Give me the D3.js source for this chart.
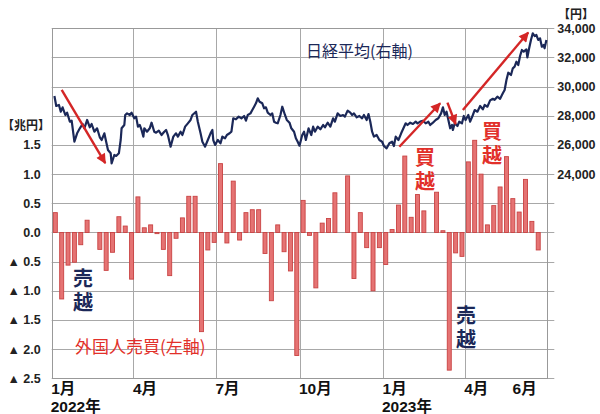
<!DOCTYPE html>
<html><head><meta charset="utf-8">
<script src="https://cdn.jsdelivr.net/npm/d3@7"></script>
<style>body{margin:0;background:#fff} svg{display:block}</style>
</head><body><svg id="c" width="600" height="414"></svg>
<script>
// ---- data ----
const flowFirstWeek = "2022-01-05";
const flowValues = [0.34,-1.14,-0.56,-0.51,-0.21,0.21,0,-0.29,-0.65,-0.34,
 0.27,0.11,-0.80,0.61,0.08,0.13,-0.02,-0.29,-0.74,-0.10,
 0.25,0.62,0.62,-1.70,-0.30,-0.17,1.18,-0.18,0.88,-0.13,
 0.34,0.39,0.39,-0.36,-1.17,0.13,-0.33,-0.66,-2.11,0.55,
 -0.05,-0.95,0.16,0.24,0.68,null,0.97,-0.79,0.34,-0.26,
 -1.00,-0.26,-0.55,0.05,0.47,1.31,0.26,0.65,0.37,null,
 0.69,0.03,-2.36,-0.35,-0.41,1.21,1.58,1.00,0.13,0.46,
 0.78,1.30,0.58,0.35,0.91,0.19,-0.30];

const nikkeiDates = ["2022-01-04","2022-01-06","2022-01-09","2022-01-11","2022-01-13","2022-01-16","2022-01-18","2022-01-21","2022-01-23","2022-01-26",
"2022-01-29","2022-02-01","2022-02-04","2022-02-06","2022-02-09","2022-02-12","2022-02-14","2022-02-17","2022-02-20","2022-02-23",
"2022-02-25","2022-02-28","2022-03-02","2022-03-04","2022-03-07","2022-03-08","2022-03-11","2022-03-13","2022-03-16","2022-03-18",
"2022-03-19","2022-03-22","2022-03-23","2022-03-25","2022-03-28","2022-03-30","2022-04-02","2022-04-04","2022-04-06","2022-04-08",
"2022-04-10","2022-04-12","2022-04-13","2022-04-16","2022-04-19","2022-04-21","2022-04-24","2022-04-26","2022-04-29","2022-05-02",
"2022-05-05","2022-05-07","2022-05-09","2022-05-12","2022-05-15","2022-05-18","2022-05-20","2022-05-23","2022-05-25","2022-05-28",
"2022-05-31","2022-06-03","2022-06-05","2022-06-09","2022-06-11","2022-06-14","2022-06-16","2022-06-19","2022-06-22","2022-06-25",
"2022-06-27","2022-06-28","2022-06-30","2022-07-03","2022-07-06","2022-07-08","2022-07-11","2022-07-13","2022-07-16","2022-07-18",
"2022-07-19","2022-07-20","2022-07-23","2022-07-26","2022-07-29","2022-08-01","2022-08-03","2022-08-05","2022-08-08","2022-08-10",
"2022-08-12","2022-08-14","2022-08-16","2022-08-18","2022-08-21","2022-08-23","2022-08-25","2022-08-27","2022-08-30","2022-09-01",
"2022-09-03","2022-09-05","2022-09-07","2022-09-10","2022-09-12","2022-09-15","2022-09-17","2022-09-20","2022-09-22","2022-09-25",
"2022-09-27","2022-09-29","2022-10-01","2022-10-04","2022-10-06","2022-10-08","2022-10-11","2022-10-14","2022-10-16","2022-10-18",
"2022-10-21","2022-10-24","2022-10-27","2022-10-29","2022-11-01","2022-11-04","2022-11-07","2022-11-09","2022-11-12","2022-11-15",
"2022-11-18","2022-11-20","2022-11-23","2022-11-26","2022-11-28","2022-11-30","2022-12-03","2022-12-06","2022-12-09","2022-12-11",
"2022-12-14","2022-12-16","2022-12-18","2022-12-20","2022-12-22","2022-12-25","2022-12-28","2022-12-31","2023-01-02","2023-01-05",
"2023-01-08","2023-01-11","2023-01-13","2023-01-15","2023-01-18","2023-01-21","2023-01-23","2023-01-26","2023-01-28","2023-01-31",
"2023-02-03","2023-02-06","2023-02-08","2023-02-11","2023-02-14","2023-02-17","2023-02-20","2023-02-22","2023-02-25","2023-02-28",
"2023-03-03","2023-03-06","2023-03-08","2023-03-10","2023-03-12","2023-03-14","2023-03-16","2023-03-18","2023-03-19","2023-03-21",
"2023-03-24","2023-03-26","2023-03-29","2023-03-31","2023-04-02","2023-04-05","2023-04-07","2023-04-10","2023-04-12","2023-04-15",
"2023-04-18","2023-04-21","2023-04-23","2023-04-26","2023-04-29","2023-05-02","2023-05-04","2023-05-07","2023-05-10","2023-05-13",
"2023-05-15","2023-05-17","2023-05-19","2023-05-22","2023-05-24","2023-05-26","2023-05-28","2023-05-30","2023-06-01","2023-06-03",
"2023-06-05","2023-06-08","2023-06-09","2023-06-11","2023-06-13","2023-06-15","2023-06-17","2023-06-19","2023-06-21","2023-06-23",
"2023-06-25","2023-06-27","2023-06-28","2023-06-30"];
const nikkeiValues = [29358,28672,28740,28281,28583,28055,28213,27596,27664,26224,
26800,27143,27438,27143,27713,27210,27438,26910,27143,26526,
26340,26800,26224,25655,25428,24743,25313,25246,25428,26340,
27143,27370,28055,28167,28055,28213,27828,27942,27256,27370,
27028,26570,27143,26910,27143,27528,26910,26842,26980,26683,
26910,27028,26683,25883,26570,26800,26570,26910,26683,27256,
27484,27713,28055,28281,27596,26800,26224,25883,26340,26800,
27028,26340,26000,26340,26114,26570,26457,26683,26800,26910,
27370,27828,27760,27942,27828,27987,27664,28055,28167,28396,
28624,28857,29200,28967,28857,28514,28583,28213,28055,28167,
27596,27528,27484,28055,28624,28055,27713,27528,27143,26910,
26457,26224,25950,26683,26910,26340,27143,26683,27256,26910,
27256,27074,27370,27210,27528,27256,27828,27596,28167,27987,
28055,27942,28354,28213,28055,28167,27896,27987,27828,28055,
27713,28121,27596,26910,26570,26683,26340,26224,25930,25770,
26114,26224,25930,26570,26340,26800,27074,27484,27370,27528,
27438,27596,27484,27600,27664,27484,27596,27370,27528,27713,
27828,28167,28583,28055,28281,27713,27143,27370,27028,27484,
27302,27596,27484,27987,27713,28055,27596,28055,28396,28281,
28672,28445,28740,28624,29054,29169,29100,29312,29169,29543,
29770,30455,30955,30798,31255,31370,31711,31484,32100,32512,
32397,32557,32000,32630,33200,33657,33472,33540,33200,33314,
32740,32855,32630,33200];

const leftTicks = [-2.5,-2,-1.5,-1,-0.5,0,0.5,1,1.5];
const leftTickLabels = ["▲ 2.5","▲ 2.0","▲ 1.5","▲ 1.0","▲ 0.5","0.0","0.5","1.0","1.5"];
const rightTicks = [24000,26000,28000,30000,32000,34000];
const monthTickDates = ["2022-01-01","2022-04-01","2022-07-01","2022-10-01","2023-01-01","2023-04-01","2023-06-01"];
const monthTickLabels = ["1月","4月","7月","10月","1月","4月","6月"];
const yearTickLabels = ["2022年","","","","2023年","",""];
const quarterLines = ["2022-04-01","2022-07-01","2022-10-01","2023-01-01","2023-04-01"];
const trendArrows = [
  {from:["2022-01-12",29770], to:["2022-03-01",24760]},
  {from:["2023-01-19",25880], to:["2023-03-05",28860]},
  {from:["2023-03-13",28900], to:["2023-03-22",27440]},
  {from:["2023-03-30",28400], to:["2023-06-10",33710]}
];

// ---- drawing ----
const parse = d3.timeParse("%Y-%m-%d");
const svg = d3.select("#c");
const X0 = 51.7, X1 = 547.3, Y0 = 28.3, Y1 = 378.3;
const x = d3.scaleTime().domain([parse("2022-01-01"), parse("2023-07-01")]).range([X0, X1]);
const yL = d3.scaleLinear().domain([-2.5, 3.5]).range([Y1, Y0]);
const yR = d3.scaleLinear().domain([10000, 34000]).range([Y1, Y0]);
const FONT = "'Liberation Sans', Arial, 'Noto Sans CJK JP', sans-serif";
const JFONT = "'Noto Sans CJK JP', sans-serif";
const navy = "#1b2858", red = "#e2302a";

// gridlines
svg.append("g").selectAll("line").data(d3.range(-2.5, 3.51, 0.5)).join("line")
  .attr("x1", X0).attr("x2", X1 + 7)
  .attr("y1", d => Math.round(yL(d)) + 0.5).attr("y2", d => Math.round(yL(d)) + 0.5)
  .attr("stroke", "#a8a8a8").attr("stroke-width", 1);
svg.append("g").selectAll("line").data(quarterLines).join("line")
  .attr("x1", d => Math.round(x(parse(d))) + 0.5).attr("x2", d => Math.round(x(parse(d))) + 0.5)
  .attr("y1", Y0).attr("y2", Y1)
  .attr("stroke", "#a8a8a8").attr("stroke-width", 1);
svg.append("rect").attr("x", Math.round(X0) + 0.5).attr("y", Math.round(Y0) + 0.5)
  .attr("width", Math.round(X1) - Math.round(X0)).attr("height", Math.round(Y1) - Math.round(Y0))
  .attr("fill", "none").attr("stroke", "#999").attr("stroke-width", 1);

// bars
const week0 = parse(flowFirstWeek);
const flows = flowValues.map((v, i) => ({date: d3.timeDay.offset(week0, 7 * i), v})).filter(d => d.v !== null);
svg.append("g").selectAll("rect").data(flows).join("rect")
  .attr("x", d => x(d.date) - 2)
  .attr("width", 4)
  .attr("y", d => yL(Math.max(0, d.v)))
  .attr("height", d => Math.abs(yL(d.v) - yL(0)))
  .attr("fill", "#e57373").attr("stroke", "#c94343").attr("stroke-width", 0.9);

// line
const nk = nikkeiDates.map((d, i) => ({date: parse(d), v: nikkeiValues[i]}));
svg.append("path").datum(nk)
  .attr("d", d3.line().x(d => x(d.date)).y(d => yR(d.v)))
  .attr("fill", "none").attr("stroke", navy).attr("stroke-width", 2.2).attr("stroke-linejoin", "round");

// arrows
svg.append("defs").append("marker").attr("id", "ah")
  .attr("viewBox", "0 0 10 10").attr("refX", 9).attr("refY", 5)
  .attr("markerWidth", 11).attr("markerHeight", 10).attr("markerUnits", "userSpaceOnUse")
  .attr("orient", "auto")
  .append("path").attr("d", "M0,0 L10,5 L0,10 z").attr("fill", "#d42626");
svg.append("g").selectAll("line").data(trendArrows).join("line")
  .attr("x1", d => x(parse(d.from[0]))).attr("y1", d => yR(d.from[1]))
  .attr("x2", d => x(parse(d.to[0]))).attr("y2", d => yR(d.to[1]))
  .attr("stroke", "#d42626").attr("stroke-width", 2.4).attr("marker-end", "url(#ah)");

// left axis
const la = svg.append("g").attr("transform", `translate(${X0},0)`)
  .call(d3.axisLeft(yL).tickValues(leftTicks).tickFormat((d, i) => leftTickLabels[i]).tickSize(0).tickPadding(11));
la.select(".domain").remove();
la.selectAll("text").attr("font-family", FONT).attr("font-size", 12.5).attr("font-weight", "bold").attr("fill", "#222");

// right axis
const ra = svg.append("g").attr("transform", `translate(${X1},0)`)
  .call(d3.axisRight(yR).tickValues(rightTicks).tickFormat(d3.format(",")).tickSize(0).tickPadding(10));
ra.select(".domain").remove();
ra.selectAll("text").attr("font-family", FONT).attr("font-size", 12.5).attr("font-weight", "bold").attr("fill", "#222");

// bottom axis
const ba = svg.append("g").attr("transform", `translate(0,${Y1})`)
  .call(d3.axisBottom(x).tickValues(monthTickDates.map(parse)).tickFormat((d, i) => monthTickLabels[i]).tickSize(0).tickPadding(5));
ba.select(".domain").remove();
ba.selectAll("text").attr("text-anchor", "start")
  .attr("dx", (d, i) => i === 6 ? -8 : -1)
  .attr("font-family", FONT).attr("font-size", 15.5).attr("font-weight", "bold").attr("fill", "#111");
svg.append("g").selectAll("text").data(monthTickDates.map((d, i) => ({d, t: yearTickLabels[i]})).filter(o => o.t)).join("text")
  .attr("x", o => x(parse(o.d)) - 1).attr("y", 412)
  .attr("font-family", FONT).attr("font-size", 15.5).attr("font-weight", "bold").attr("fill", "#111")
  .text(o => o.t);

// unit labels
svg.append("text").attr("x", 26).attr("y", 130).attr("text-anchor", "middle")
  .attr("font-family", FONT).attr("font-size", 12).attr("font-weight", "bold").attr("fill", "#222").text("【兆円】");
svg.append("text").attr("x", 576).attr("y", 19).attr("text-anchor", "middle")
  .attr("font-family", FONT).attr("font-size", 12).attr("font-weight", "bold").attr("fill", "#222").text("【円】");

// series labels
svg.append("text").attr("x", 306).attr("y", 57).attr("font-family", JFONT).attr("font-size", 16)
  .attr("fill", navy).text("日経平均(右軸)");
svg.append("text").attr("x", 75).attr("y", 353).attr("font-family", JFONT).attr("font-size", 17)
  .attr("fill", red).text("外国人売買(左軸)");

// vertical annotations: one vertical text each
const notes = [
  {t: "売越", x: 83, top: 268, c: navy},
  {t: "売越", x: 466, top: 305, c: navy},
  {t: "買越", x: 425, top: 147, c: red},
  {t: "買越", x: 492, top: 121, c: red}
];
svg.append("g").selectAll("text").data(notes).join("text")
  .attr("x", d => d.x).attr("y", d => d.top)
  .style("writing-mode", "vertical-rl")
  .attr("letter-spacing", 4)
  .attr("font-family", JFONT).attr("font-size", 20).attr("font-weight", "bold").attr("fill", d => d.c)
  .text(d => d.t);
</script></body></html>
